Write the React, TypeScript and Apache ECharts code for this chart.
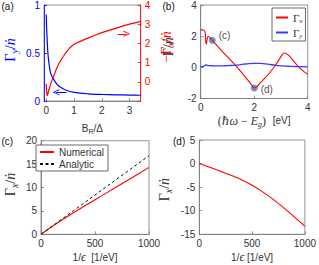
import React, { useEffect, useRef } from "react";
import * as echarts from "echarts";

// ---------- data ----------
// panel (a)
const aBlueX = [0, 0.01, 0.03, 0.06, 0.1, 0.15, 0.2, 0.3, 0.4, 0.5, 0.7, 1.0, 1.5, 2.0, 2.5, 3.0, 3.4];
const aBlueY = [0.9, 0.8, 0.66, 0.5, 0.39, 0.3, 0.26, 0.21, 0.17, 0.145, 0.115, 0.09, 0.075, 0.068, 0.064, 0.062, 0.06];
const aRedX = [0, 0.03, 0.08, 0.14, 0.2, 0.3, 0.42, 0.56, 0.75, 1.0, 1.25, 1.54, 1.8, 2.09, 2.4, 2.64, 3.0, 3.4];
const aRedY = [-0.1, -0.74, -0.5, -0.2, 0.05, 0.42, 0.85, 1.2, 1.6, 1.95, 2.12, 2.3, 2.45, 2.6, 2.74, 2.85, 3.0, 3.15];
const aXTicks = [0, 1, 2, 3];
const aBlueArrow = [[0.73, 0.09], [0.36, 0.09]];
const aRedArrow = [[2.57, 2.5], [2.89, 2.5]];

// panel (b)
const bRedX = [0, 0.08, 0.14, 0.17, 0.19, 0.21, 0.23, 0.26, 0.3, 0.43, 0.7, 1.0, 1.37, 1.6, 1.8, 1.9, 2.0, 2.1, 2.2, 2.4, 2.6, 2.78, 2.95, 3.05, 3.12, 3.2, 3.3, 3.5, 3.65, 3.8, 4.0];
const bRedY = [2.42, 2.4, 2.35, 2.2, 1.6, 1.5, 1.7, 1.95, 1.98, 1.74, 1.22, 0.68, 0, -0.48, -0.9, -1.12, -1.33, -1.25, -1.05, -0.7, -0.3, 0.1, 0.55, 0.82, 0.92, 0.88, 0.75, 0.35, 0.05, -0.2, -0.45];
const bBlueX = [0, 0.1, 0.2, 0.3, 0.5, 0.8, 1.0, 1.3, 1.6, 1.8, 2.0, 2.2, 2.5, 2.8, 3.0, 3.3, 3.6, 4.0];
const bBlueY = [0.03, 0.06, 0.15, 0.11, 0.1, 0.09, 0.11, 0.14, 0.2, 0.24, 0.26, 0.25, 0.2, 0.13, 0.1, 0.07, 0.05, 0.03];
const bPointX = [0.43, 2.0];
const bPointY = [1.74, -1.33];
const bPointLabels = ["(c)", "(d)"];

// panel (c)
const cX = [0, 100, 200, 300, 400, 500, 600, 700, 800, 900, 1000];
const cNumY = [0, 1.6, 3.15, 4.6, 6.0, 7.4, 8.75, 10.15, 11.5, 12.9, 14.3];
const cAnaY = [0, 1.68, 3.36, 5.04, 6.72, 8.4, 10.08, 11.76, 13.44, 15.12, 16.8];

// panel (d)
const dX = [0, 100, 200, 300, 400, 500, 600, 700, 800, 900, 1000];
const dY = [0, -0.8, -1.65, -2.5, -3.45, -4.6, -6.0, -7.6, -9.4, -11.3, -13.3];

const panelLabels = ["(a)", "(b)", "(c)", "(d)"];

// ---------- styling ----------
const SANS = "Liberation Sans, Arial, Helvetica, sans-serif";
const SERIF = "Liberation Serif, DejaVu Serif, Times New Roman, serif";
const AX = "#7a7a7a";
const TXT = "#333333";
const RED = "#ff0000";
const BLUE = "#0000ff";
const BLUE2 = "#3a3aff";
const DOT = "#3d7fc0";

const zip = (xs: number[], ys: number[]) => xs.map((x, i) => [x, ys[i]]);

function mathRich(color: string, size: number) {
  const sub = Math.round(size * 0.68);
  return {
    g: { fontFamily: SERIF, fontSize: size, color, lineHeight: size + 4, verticalAlign: "middle" },
    i: { fontFamily: SERIF, fontStyle: "italic", fontSize: size, color, lineHeight: size + 4, verticalAlign: "middle" },
    s: { fontFamily: SERIF, fontStyle: "italic", fontSize: sub, color, lineHeight: sub, padding: [Math.round(size * 0.55), 0, 0, 0], verticalAlign: "middle" },
    n: { fontFamily: SANS, fontSize: size - 2, color, lineHeight: size + 4, verticalAlign: "middle" },
    ns: { fontFamily: SANS, fontSize: sub - 1, color, lineHeight: sub, padding: [Math.round(size * 0.5), 0, 0, 0], verticalAlign: "middle" },
  };
}

const plain = (v: number) => String(v);
const tickLabel = (color: string) => ({ fontFamily: SANS, fontSize: 10, color, margin: 4, formatter: plain });
const tick = (color: string) => ({ show: true, inside: true, length: 3, lineStyle: { color, width: 0.8 } });
const line = (color: string) => ({ show: true, onZero: false, lineStyle: { color, width: 0.8 } });

const arrowHead = "path://M0,0 L5,8 L4,8.8 L0,2.2 L-4,8.8 L-5,8 Z";

export default function App() {
  const ref = useRef<HTMLDivElement>(null);
  useEffect(() => {
    if (!ref.current) return;
    const chart = echarts.init(ref.current, undefined, { renderer: "svg" });

    const grids = [
      { left: 33.3, top: 5, width: 107.4, height: 96 },
      { left: 200.7, top: 4.5, width: 107, height: 94 },
      { left: 32.3, top: 140.7, width: 116.7, height: 93.6 },
      { left: 199.3, top: 140, width: 108.4, height: 94.3 },
    ].map((g) => ({ ...g, show: true, borderColor: AX, borderWidth: 0.8, backgroundColor: "transparent", containLabel: false }));

    const xAxes = [
      {
        gridIndex: 0, type: "value", min: -0.08, max: 3.4,
        axisLine: line(AX), axisTick: { ...tick(AX), customValues: aXTicks },
        axisLabel: { ...tickLabel(TXT), customValues: aXTicks },
        splitLine: { show: false },
        name: "{n|B}{ns|R}{n|/Δ}", nameLocation: "middle", nameGap: 19,
        nameTextStyle: { rich: mathRich(TXT, 12) },
      },
      {
        gridIndex: 1, type: "value", min: 0, max: 4, interval: 2,
        axisLine: line(AX), axisTick: tick(AX), axisLabel: tickLabel(TXT), splitLine: { show: false },
        name: "{g|(}{i|ℏω}{g| − }{i|E}{s|g}{g|)}  {n|[eV]}", nameLocation: "middle", nameGap: 12,
        nameTextStyle: { rich: mathRich(TXT, 12) },
      },
      {
        gridIndex: 2, type: "value", min: 0, max: 1000, interval: 500,
        axisLine: line(AX), axisTick: tick(AX), axisLabel: tickLabel(TXT), splitLine: { show: false },
        name: "{n|1/}{i|ϵ}{n|  [1/eV]}", nameLocation: "middle", nameGap: 15,
        nameTextStyle: { rich: mathRich(TXT, 12) },
      },
      {
        gridIndex: 3, type: "value", min: 0, max: 1000, interval: 500,
        axisLine: line(AX), axisTick: tick(AX), axisLabel: tickLabel(TXT), splitLine: { show: false },
        name: "{n|1/}{i|ϵ}{n| [1/eV]}", nameLocation: "middle", nameGap: 15,
        nameTextStyle: { rich: mathRich(TXT, 12) },
      },
    ];

    const yAxes = [
      {
        gridIndex: 0, type: "value", min: 0, max: 1, interval: 0.5, position: "left",
        axisLine: line(BLUE), axisTick: tick(BLUE), axisLabel: tickLabel(BLUE), splitLine: { show: false },
        name: "{g|Γ}{s|y}{g|/}{i|ṅ}", nameLocation: "middle", nameGap: 25, nameRotate: 90,
        nameTextStyle: { rich: mathRich(BLUE, 14), padding: [0, 0, 0, 6] },
      },
      {
        gridIndex: 0, type: "value", min: -1, max: 4, interval: 1, position: "right",
        axisLine: line(RED), axisTick: tick(RED),
        axisLabel: { ...tickLabel(RED), formatter: (v: number) => (v < 0 ? "" : String(v)) },
        splitLine: { show: false },
        name: "{g|−Γ}{s|x}{g|/}{i|ṅ}", nameLocation: "middle", nameGap: 17, nameRotate: 90,
        nameTextStyle: { rich: mathRich(RED, 14), padding: [0, 0, 0, 12] },
      },
      {
        gridIndex: 1, type: "value", min: -2, max: 4, interval: 2,
        axisLine: line(AX), axisTick: tick(AX), axisLabel: tickLabel(TXT), splitLine: { show: false },
        name: "{g|Γ/}{i|ṅ}", nameLocation: "middle", nameGap: 23, nameRotate: 90,
        nameTextStyle: { rich: mathRich(TXT, 14), padding: [0, 0, 0, 10] },
      },
      {
        gridIndex: 2, type: "value", min: 0, max: 20, interval: 5,
        axisLine: line(AX), axisTick: tick(AX), axisLabel: tickLabel(TXT), splitLine: { show: false },
        name: "{g|Γ}{s|x}{g|/}{i|ṅ}", nameLocation: "middle", nameGap: 22, nameRotate: 90,
        nameTextStyle: { rich: mathRich(TXT, 14), padding: [0, 0, 0, 6] },
      },
      {
        gridIndex: 3, type: "value", min: -15, max: 5, interval: 5,
        axisLine: line(AX), axisTick: tick(AX), axisLabel: tickLabel(TXT), splitLine: { show: false },
        name: "{g|Γ}{s|x}{g|/}{i|ṅ}", nameLocation: "middle", nameGap: 26, nameRotate: 90,
        nameTextStyle: { rich: mathRich(TXT, 14), padding: [0, 5, 0, 0] },
      },
    ];

    const arrowLine = (pts: number[][], color: string) => ({
      silent: true, animation: false,
      symbol: ["none", arrowHead], symbolSize: [6, 7],
      label: { show: false },
      lineStyle: { color, width: 1, type: "solid" },
      emphasis: { disabled: true },
      data: [[{ coord: pts[0] }, { coord: pts[1] }]],
    });

    const series: any[] = [
      {
        name: "aBlue", type: "line", xAxisIndex: 0, yAxisIndex: 0, data: zip(aBlueX, aBlueY),
        symbol: "none", smooth: 0.3, lineStyle: { color: BLUE, width: 1.2 }, itemStyle: { color: BLUE },
        markLine: arrowLine(aBlueArrow, BLUE),
      },
      {
        name: "aRed", type: "line", xAxisIndex: 0, yAxisIndex: 1, data: zip(aRedX, aRedY),
        symbol: "none", smooth: 0.3, lineStyle: { color: RED, width: 1.2 }, itemStyle: { color: RED },
        markLine: arrowLine(aRedArrow, RED),
      },
      {
        name: "Γx", type: "line", xAxisIndex: 1, yAxisIndex: 2, data: zip(bRedX, bRedY),
        symbol: "none", smooth: 0.2, lineStyle: { color: RED, width: 1.1 }, itemStyle: { color: RED },
      },
      {
        name: "Γy", type: "line", xAxisIndex: 1, yAxisIndex: 2, data: zip(bBlueX, bBlueY),
        symbol: "none", smooth: 0.3, lineStyle: { color: BLUE2, width: 1.3 }, itemStyle: { color: BLUE2 },
      },
      {
        name: "points", type: "scatter", xAxisIndex: 1, yAxisIndex: 2,
        data: bPointX.map((x, i) => ({
          value: [x, bPointY[i]],
          label: {
            show: true, formatter: bPointLabels[i], position: "right", distance: 3,
            offset: i === 0 ? [0, -5] : [0, 1],
            fontFamily: SANS, fontSize: 10, color: "#111",
          },
        })),
        symbol: "circle", symbolSize: 7, itemStyle: { color: DOT },
        emphasis: { disabled: true },
      },
      {
        name: "Numerical", type: "line", xAxisIndex: 2, yAxisIndex: 3, data: zip(cX, cNumY),
        symbol: "none", lineStyle: { color: RED, width: 1.1 }, itemStyle: { color: RED },
      },
      {
        name: "Analytic", type: "line", xAxisIndex: 2, yAxisIndex: 3, data: zip(cX, cAnaY),
        symbol: "none", lineStyle: { color: "#111", width: 1, type: [3, 2.5] }, itemStyle: { color: "#111" },
      },
      {
        name: "dRed", type: "line", xAxisIndex: 3, yAxisIndex: 4, data: zip(dX, dY),
        symbol: "none", smooth: 0.3, lineStyle: { color: RED, width: 1.1 }, itemStyle: { color: RED },
      },
    ];

    const legendBase = {
      orient: "vertical", itemGap: 2, borderColor: "#444", borderWidth: 0.8, backgroundColor: "#fff",
      selectedMode: false,
      itemStyle: { opacity: 0 },
    };

    const panelLabel = (text: string, left: number, top: number) => ({
      type: "text", left, top, silent: true, style: { text, font: `10px ${SANS}`, fill: "#111" },
    });

    chart.setOption({
      animation: false,
      backgroundColor: "#fff",
      textStyle: { fontFamily: SANS },
      grid: grids,
      xAxis: xAxes,
      yAxis: yAxes,
      series,
      legend: [
        {
          ...legendBase, data: ["Γx", "Γy"], left: 272, top: 8,
          padding: [3, 3, 2, 3], itemWidth: 12, itemHeight: 10,
          formatter: (n: string) => (n === "Γx" ? "{g|Γ}{s|x}" : "{g|Γ}{s|y}"),
          textStyle: { rich: mathRich(TXT, 11) },
        },
        {
          ...legendBase, data: ["Numerical", "Analytic"], left: 36, top: 145,
          padding: [2, 4, 2, 3], itemWidth: 14, itemHeight: 10,
          textStyle: { fontFamily: SANS, fontSize: 10, color: TXT },
        },
      ],
      graphic: [
        panelLabel(panelLabels[0], 1.5, 1),
        panelLabel(panelLabels[1], 162.5, 1),
        panelLabel(panelLabels[2], 1.5, 136),
        panelLabel(panelLabels[3], 173, 136),
      ],
    });

    return () => chart.dispose();
  }, []);

  return (
    <div
      ref={ref}
      style={{ position: "fixed", left: 0, top: 0, width: 319, height: 265, background: "#fff" }}
    />
  );
}
